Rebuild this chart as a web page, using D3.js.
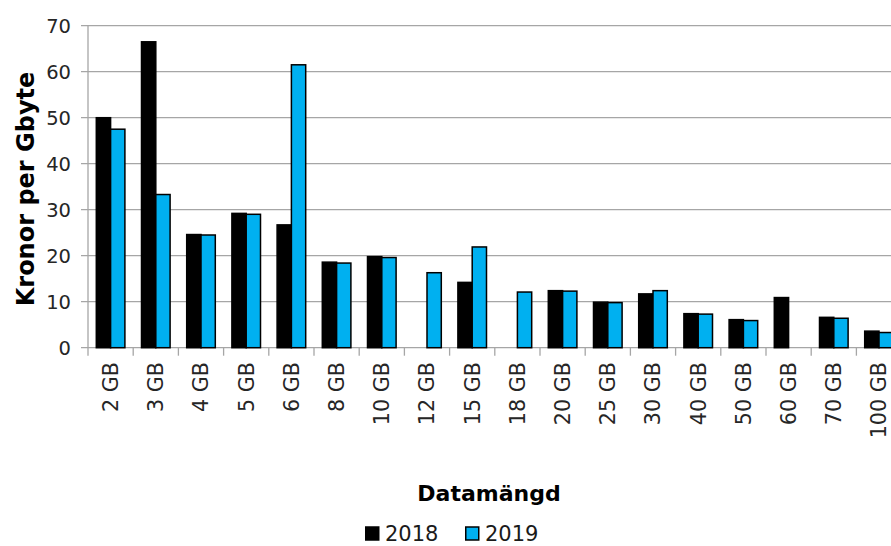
<!DOCTYPE html>
<html><head><meta charset="utf-8">
<script src="https://cdn.jsdelivr.net/npm/d3@7"></script>
<style>
html,body{margin:0;padding:0;background:#fff;}
svg{display:block;font-family:"DejaVu Sans",Verdana,sans-serif;}
</style></head>
<body>
<svg id="chart" width="891" height="546"></svg>
<script>
const categories = ["2 GB","3 GB","4 GB","5 GB","6 GB","8 GB","10 GB","12 GB","15 GB","18 GB","20 GB","25 GB","30 GB","40 GB","50 GB","60 GB","70 GB","100 GB"];
const series2018 = [50.0,66.5,24.6,29.2,26.7,18.6,19.8,null,14.2,null,12.4,9.9,11.7,7.4,6.1,10.9,6.6,3.6];
const series2019 = [47.5,33.3,24.5,29.0,61.5,18.4,19.6,16.3,21.9,12.1,12.3,9.8,12.4,7.3,5.9,null,6.4,3.3];
const seriesNames = ["2018","2019"];
const yTicks = [0,10,20,30,40,50,60,70];

const colors = {"2018":"#000000","2019":"#00B0F0"};
const svg = d3.select("#chart");
const pLeft = 88, pTop = 25.7, pBottom = 347.7, step = 45.2;
const pRight = pLeft + step*categories.length;

const x = d3.scaleBand().domain(categories).range([pLeft,pRight]).padding(0);
const y = d3.scaleLinear().domain([0,70]).range([pBottom,pTop]);
const xs = d3.scaleBand().domain(seriesNames).range([0,28.6]);

// gridlines
svg.append("g").selectAll("line").data(yTicks).join("line")
  .attr("x1",81).attr("x2",891)
  .attr("y1",d=>y(d)).attr("y2",d=>y(d))
  .attr("stroke","#a6a6a6").attr("stroke-width",1.3);

// y axis line
svg.append("line").attr("x1",pLeft).attr("x2",pLeft).attr("y1",pTop).attr("y2",pBottom)
  .attr("stroke","#a6a6a6").attr("stroke-width",1.3);

// x ticks
svg.append("g").selectAll("line").data(d3.range(categories.length+1)).join("line")
  .attr("x1",i=>pLeft+i*x.bandwidth()).attr("x2",i=>pLeft+i*x.bandwidth())
  .attr("y1",pBottom).attr("y2",pBottom+8)
  .attr("stroke","#a6a6a6").attr("stroke-width",1.3);

// y tick labels
svg.append("g").selectAll("text").data(yTicks).join("text")
  .attr("x",71).attr("y",d=>y(d)).attr("dy","0.36em")
  .attr("text-anchor","end").attr("font-size",19.5).attr("fill","#262626")
  .text(d=>d);

// bars
const data = [];
categories.forEach((c,i)=>{
  [["2018",series2018[i]],["2019",series2019[i]]].forEach(([s,v])=>{
    if(v!=null) data.push({c,s,v});
  });
});
const off = (x.bandwidth()-28.6)/2;
svg.append("g").selectAll("rect").data(data).join("rect")
  .attr("x",d=>x(d.c)+off+xs(d.s))
  .attr("width",xs.bandwidth())
  .attr("y",d=>y(d.v)).attr("height",d=>y(0)-y(d.v))
  .attr("fill",d=>colors[d.s]).attr("stroke","#000").attr("stroke-width",1.5);

// x tick labels
svg.append("g").selectAll("text").data(categories).join("text")
  .attr("transform",d=>`translate(${x(d)+x.bandwidth()/2},362) rotate(-90)`)
  .attr("dy","0.36em").attr("text-anchor","end")
  .attr("font-size",20.7).attr("fill","#262626")
  .text(d=>d);

// axis titles
svg.append("text").attr("transform","translate(25,189) rotate(-90)")
  .attr("dy","0.36em").attr("text-anchor","middle")
  .attr("font-size",24).attr("font-weight","bold").attr("fill","#000")
  .text("Kronor per Gbyte");
svg.append("text").attr("x",489).attr("y",493).attr("dy","0.36em")
  .attr("text-anchor","middle").attr("font-size",22).attr("font-weight","bold")
  .attr("fill","#000").text("Datamängd");

// legend
const lg = svg.append("g");
const legendX = [365,465];
seriesNames.forEach((s,i)=>{
  lg.append("rect").attr("x",legendX[i]+0.75).attr("y",527).attr("width",13).attr("height",13)
    .attr("fill",colors[s]).attr("stroke","#000").attr("stroke-width",1.5);
  lg.append("text").attr("x",legendX[i]+20).attr("y",540.5)
    .attr("font-size",21).attr("fill","#1a1a1a").text(s);
});
</script>
</body></html>
